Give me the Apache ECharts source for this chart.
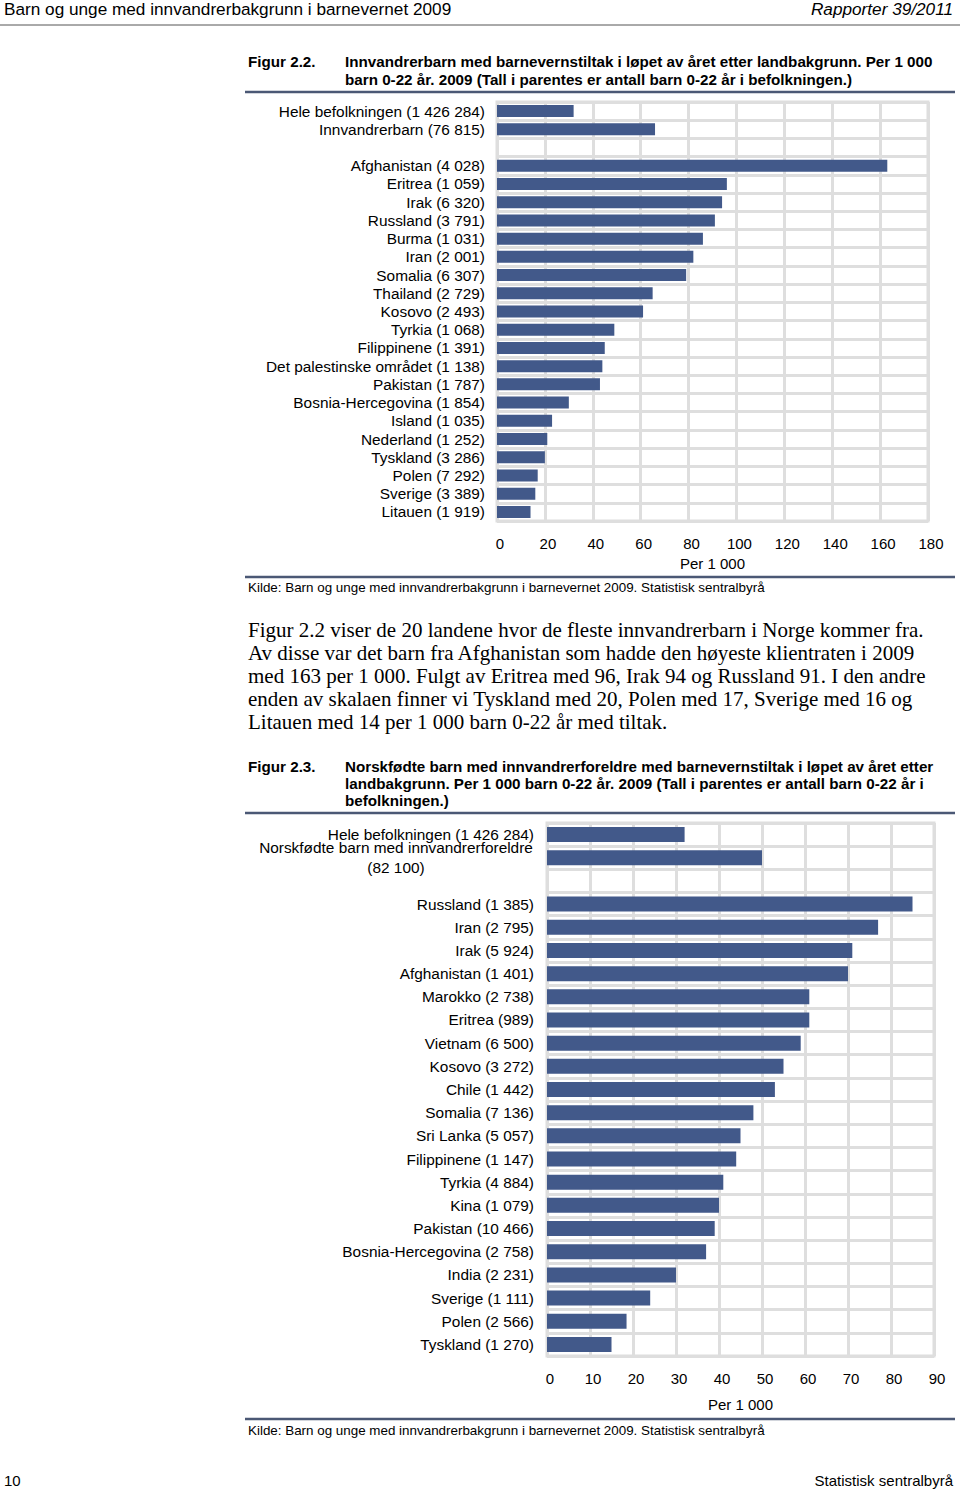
<!DOCTYPE html>
<html>
<head>
<meta charset="utf-8">
<script src="https://cdn.jsdelivr.net/npm/echarts@6/dist/echarts.min.js"></script>
<style>
html,body{margin:0;padding:0;background:#fff;}
#page{width:960px;height:1489px;}
</style>
</head>
<body>
<div id="page"></div>
<script>
// ---------- Figure 2.2 data ----------
const cats1 = [
  'Hele befolkningen (1 426 284)', 'Innvandrerbarn (76 815)', '',
  'Afghanistan (4 028)', 'Eritrea (1 059)', 'Irak (6 320)', 'Russland (3 791)',
  'Burma (1 031)', 'Iran (2 001)', 'Somalia (6 307)', 'Thailand (2 729)',
  'Kosovo (2 493)', 'Tyrkia (1 068)', 'Filippinene (1 391)',
  'Det palestinske området (1 138)', 'Pakistan (1 787)',
  'Bosnia-Hercegovina (1 854)', 'Island (1 035)', 'Nederland (1 252)',
  'Tyskland (3 286)', 'Polen (7 292)', 'Sverige (3 389)', 'Litauen (1 919)'
];
const vals1 = [32, 66, null, 163, 96, 94, 91, 86, 82, 79, 65, 61, 49, 45, 44, 43, 30, 23, 21, 20, 17, 16, 14];
const ticks1 = { min: 0, max: 180, interval: 20 };

// ---------- Figure 2.3 data ----------
const cats2 = [
  'Hele befolkningen (1 426 284)', 'Norskfødte barn med innvandrerforeldre\n(82 100)', '',
  'Russland (1 385)', 'Iran (2 795)', 'Irak (5 924)', 'Afghanistan (1 401)',
  'Marokko (2 738)', 'Eritrea (989)', 'Vietnam (6 500)', 'Kosovo (3 272)',
  'Chile (1 442)', 'Somalia (7 136)', 'Sri Lanka (5 057)', 'Filippinene (1 147)',
  'Tyrkia (4 884)', 'Kina (1 079)', 'Pakistan (10 466)', 'Bosnia-Hercegovina (2 758)',
  'India (2 231)', 'Sverige (1 111)', 'Polen (2 566)', 'Tyskland (1 270)'
];
const vals2 = [32, 50, null, 85, 77, 71, 70, 61, 61, 59, 55, 53, 48, 45, 44, 41, 40, 39, 37, 30, 24, 18.5, 15];
const ticks2 = { min: 0, max: 90, interval: 10 };

// ---------- Page texts ----------
const headerLeft = 'Barn og unge med innvandrerbakgrunn i barnevernet 2009';
const headerRight = 'Rapporter 39/2011';
const fig1Label = 'Figur 2.2.';
const fig1Title = ['Innvandrerbarn med barnevernstiltak i løpet av året etter landbakgrunn. Per 1 000',
                   'barn 0-22 år. 2009 (Tall i parentes er antall barn 0-22 år i befolkningen.)'];
const fig2Label = 'Figur 2.3.';
const fig2Title = ['Norskfødte barn med innvandrerforeldre med barnevernstiltak i løpet av året etter',
                   'landbakgrunn. Per 1 000 barn 0-22 år. 2009 (Tall i parentes er antall barn 0-22 år i',
                   'befolkningen.)'];
const sourceText = 'Kilde: Barn og unge med innvandrerbakgrunn i barnevernet 2009. Statistisk sentralbyrå';
const paragraph = [
  'Figur 2.2 viser de 20 landene hvor de fleste innvandrerbarn i Norge kommer fra.',
  'Av disse var det barn fra Afghanistan som hadde den høyeste klientraten i 2009',
  'med 163 per 1 000. Fulgt av Eritrea med 96, Irak 94 og Russland 91. I den andre',
  'enden av skalaen finner vi Tyskland med 20, Polen med 17, Sverige med 16 og',
  'Litauen med 14 per 1 000 barn 0-22 år med tiltak.'
];
const axisName = 'Per 1 000';
const pageNo = '10';
const footerRight = 'Statistisk sentralbyrå';

const SANS = "'Liberation Sans', Arial, sans-serif";
const SERIF = "'Liberation Serif', 'Times New Roman', serif";
const BAR = '#42598a';
const GRIDC = '#dedede';
const LBL = 15.4;

const chart = echarts.init(document.getElementById('page'), null, { renderer: 'svg' });

function txt(x, y, text, opts) {
  return {
    type: 'text', x: x, y: y, silent: true,
    style: Object.assign({ text: text, fill: '#000', font: '15px ' + SANS, textAlign: 'left', textVerticalAlign: 'middle' }, opts || {})
  };
}
function hline(x1, x2, y, color, w) {
  return { type: 'line', silent: true, shape: { x1: x1, y1: y, x2: x2, y2: y }, style: { stroke: color, lineWidth: w } };
}

const graphics = [];
graphics.push(txt(4, 9, headerLeft, { font: '17.2px ' + SANS }));
graphics.push(txt(953, 9, headerRight, { font: 'italic 17.2px ' + SANS, textAlign: 'right' }));
graphics.push(hline(0, 960, 25, '#555', 1));
// figure 2.2 title
graphics.push(txt(248, 61, fig1Label, { font: 'bold 15.2px ' + SANS }));
fig1Title.forEach((t, i) => graphics.push(txt(345, 61 + i * 18, t, { font: 'bold 15.2px ' + SANS })));
graphics.push(hline(245, 955, 92, '#4b5875', 2.5));
graphics.push(hline(245, 955, 577, '#4b5875', 2.5));
graphics.push(txt(248, 587, sourceText, { font: '13.4px ' + SANS }));
// paragraph
paragraph.forEach((t, i) => graphics.push(txt(248, 630 + i * 23, t, { font: '21px ' + SERIF })));
// figure 2.3 title
graphics.push(txt(248, 766, fig2Label, { font: 'bold 15.2px ' + SANS }));
fig2Title.forEach((t, i) => graphics.push(txt(345, 766 + i * 17, t, { font: 'bold 15.2px ' + SANS })));
graphics.push(hline(245, 955, 813, '#4b5875', 2.5));
graphics.push(hline(245, 955, 1419, '#4b5875', 2.5));
graphics.push(txt(248, 1430, sourceText, { font: '13.4px ' + SANS }));
// footer
graphics.push(txt(4, 1480, pageNo, { font: '15px ' + SANS }));
graphics.push(txt(953, 1480, footerRight, { font: '15px ' + SANS, textAlign: 'right' }));

function yAxisCfg(gridIndex, cats, margin) {
  return {
    type: 'category', gridIndex: gridIndex, data: cats, inverse: true,
    axisLine: { show: false }, axisTick: { show: false },
    splitLine: { show: true, lineStyle: { color: GRIDC, width: 3 } },
    axisLabel: {
      color: '#000', fontFamily: SANS, fontSize: LBL, margin: margin, interval: 0,
      formatter: function (v) {
        if (v.indexOf('\n') >= 0) {
          return v.split('\n').map(s => '{c|' + s + '}').join('\n');
        }
        return v;
      },
      rich: { c: { width: 276, align: 'center', fontSize: LBL, fontFamily: SANS, color: '#000', lineHeight: 20 } }
    }
  };
}
function xAxisCfg(gridIndex, t, nameGap) {
  return {
    type: 'value', gridIndex: gridIndex, min: t.min, max: t.max, interval: t.interval,
    axisLine: { show: false }, axisTick: { show: false },
    splitLine: { show: true, lineStyle: { color: GRIDC, width: 3 } },
    axisLabel: { color: '#000', fontFamily: SANS, fontSize: 15, margin: 15, padding: [0, 0, 0, 6] },
    name: axisName, nameLocation: 'middle', nameGap: nameGap,
    nameTextStyle: { color: '#000', fontFamily: SANS, fontSize: 15 }
  };
}

chart.setOption({
  animation: false,
  backgroundColor: '#fff',
  grid: [
    { left: 497, width: 431, top: 102, height: 419, show: true, borderColor: GRIDC, borderWidth: 3, containLabel: false },
    { left: 547, width: 387, top: 823, height: 533, show: true, borderColor: GRIDC, borderWidth: 3, containLabel: false }
  ],
  xAxis: [xAxisCfg(0, ticks1, 35), xAxisCfg(1, ticks2, 41)],
  yAxis: [yAxisCfg(0, cats1, 12), yAxisCfg(1, cats2, 13)],
  series: [
    { type: 'bar', xAxisIndex: 0, yAxisIndex: 0, data: vals1, barWidth: 12, itemStyle: { color: BAR }, silent: true },
    { type: 'bar', xAxisIndex: 1, yAxisIndex: 1, data: vals2, barWidth: 15, itemStyle: { color: BAR }, silent: true }
  ],
  graphic: graphics
});
</script>
</body>
</html>
